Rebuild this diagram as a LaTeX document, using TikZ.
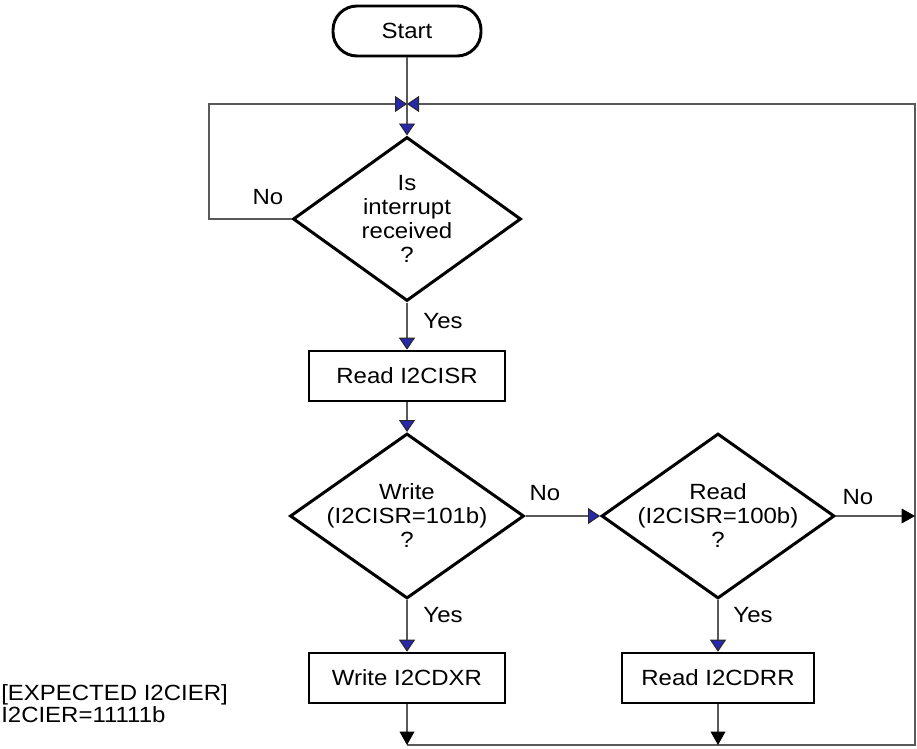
\documentclass[tikz,border=0pt]{standalone}
\usepackage{fontspec}
\setmainfont{Liberation Sans}[FakeStretch=1.09]
\usetikzlibrary{shapes.geometric,arrows.meta}
\definecolor{tipblue}{RGB}{40,40,170}
\begin{document}
\begin{tikzpicture}[x=0.75pt,y=-0.75pt,
  font=\fontsize{16.5pt}{18pt}\selectfont,
  conn/.style={draw=black!65, line width=1pt},
  bluetip/.style={-{Triangle[width=12pt,length=9pt,color=black!85,fill=tipblue,line width=0.7pt]}},
  blacktip/.style={-{Triangle[width=11pt,length=10pt,color=black]}},
  term/.style={draw=black, line width=2.2pt, rounded corners=18pt,
    minimum width=148*0.75pt, minimum height=50*0.75pt, inner sep=0pt},
  proc/.style={draw=black, line width=1.9pt, minimum width=196*0.75pt,
    minimum height=50*0.75pt, inner sep=0pt},
  decision/.style={diamond, draw=black, line width=2.25pt, inner sep=0pt},
  lbl/.style={inner sep=0pt}
]
\useasboundingbox (0,0) rectangle (917,749);

% flow elements
\node[term] (start) at (407,31) {Start};
\node[decision, minimum width=228*0.75pt, minimum height=164*0.75pt,
  label={[align=center]center:Is\\interrupt\\received\\?}] (d1) at (407,219) {};
\node[proc] (risr) at (407,376) {Read I2CISR};
\node[decision, minimum width=234*0.75pt, minimum height=165*0.75pt,
  label={[align=center]center:Write\\(I2CISR=101b)\\?}] (d2) at (407,516) {};
\node[decision, minimum width=233*0.75pt, minimum height=165*0.75pt,
  label={[align=center]center:Read\\(I2CISR=100b)\\?}] (d3) at (718,516) {};
\node[proc] (wdxr) at (407,678) {Write I2CDXR};
\node[proc, minimum width=192*0.75pt] (rdrr) at (718,678) {Read I2CDRR};

% routing points
\coordinate (j) at (407,104);
\coordinate (tl) at (209,104);
\coordinate (ml) at (209,219);
\coordinate (tr) at (915,104);
\coordinate (rm) at (915,516);
\coordinate (br) at (915,745);
\coordinate (bl) at (407,745);
\coordinate (bm) at (718,745);

% connectors
\draw[conn] (start) -- (j);
\draw[conn,bluetip] (j) -- (d1.north);
\draw[conn,bluetip] (d1.west) -- (ml) -- (tl) -- (j);
\draw[conn,bluetip] (bl) -- (br) -- (tr) -- (j);
\draw[conn,bluetip] (d1.south) -- (risr.north);
\draw[conn,bluetip] (risr.south) -- (d2.north);
\draw[conn,bluetip] (d2.east) -- (d3.west);
\draw[conn,blacktip] (d3.east) -- (rm);
\draw[conn,bluetip] (d2.south) -- (wdxr.north);
\draw[conn,bluetip] (d3.south) -- (rdrr.north);
\draw[conn,blacktip] (wdxr.south) -- (bl);
\draw[conn,blacktip] (rdrr.south) -- (bm);

% branch labels
\node[lbl] (no1) at (268,197) {No};
\node[lbl] (yes1) at (443,321) {Yes};
\node[lbl] (no2) at (545,493) {No};
\node[lbl] (no3) at (858,497) {No};
\node[lbl] (yes2) at (443,615) {Yes};
\node[lbl] (yes3) at (753,615) {Yes};

% register note
\node[lbl, anchor=north west, align=left, font=\fontsize{16.5pt}{15pt}\selectfont]
  (note) at (1,684) {[EXPECTED I2CIER]\\I2CIER=11111b};
\end{tikzpicture}
\end{document}
